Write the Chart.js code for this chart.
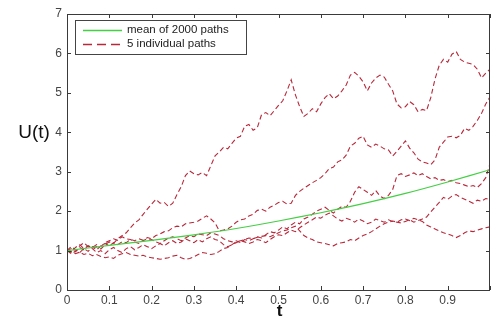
<!DOCTYPE html>
<html>
<head>
<meta charset="utf-8">
<script src="https://cdn.jsdelivr.net/npm/chart.js@4"></script>
<style>
  html, body { margin: 0; padding: 0; background: #fff; }
  #wrap { width: 493px; height: 320px; }
</style>
</head>
<body>
<div id="wrap"><canvas id="chart" width="493" height="320"></canvas></div>
<script>
// time grid of the sample paths
const tValues = [
    0.00, 0.01, 0.02, 0.03, 0.04, 0.05, 0.06, 0.07, 0.08, 0.09,
    0.10, 0.11, 0.12, 0.13, 0.14, 0.15, 0.16, 0.17, 0.18, 0.19,
    0.20, 0.21, 0.22, 0.23, 0.24, 0.25, 0.26, 0.27, 0.28, 0.29,
    0.30, 0.31, 0.32, 0.33, 0.34, 0.35, 0.36, 0.37, 0.38, 0.39,
    0.40, 0.41, 0.42, 0.43, 0.44, 0.45, 0.46, 0.47, 0.48, 0.49,
    0.50, 0.51, 0.52, 0.53, 0.54, 0.55, 0.56, 0.57, 0.58, 0.59,
    0.60, 0.61, 0.62, 0.63, 0.64, 0.65, 0.66, 0.67, 0.68, 0.69,
    0.70, 0.71, 0.72, 0.73, 0.74, 0.75, 0.76, 0.77, 0.78, 0.79,
    0.80, 0.81, 0.82, 0.83, 0.84, 0.85, 0.86, 0.87, 0.88, 0.89,
    0.90, 0.91, 0.92, 0.93, 0.94, 0.95, 0.96, 0.97, 0.98, 0.99,
    1.00
];

// five individual paths
const pathA = [
    1.00, 1.05, 0.97, 1.08, 1.02, 1.12, 1.06, 1.10, 1.04, 1.15,
    1.22, 1.18, 1.30, 1.38, 1.45, 1.58, 1.70, 1.78, 1.92, 2.05,
    2.18, 2.30, 2.20, 2.22, 2.12, 2.20, 2.42, 2.62, 2.90, 3.02,
    2.95, 2.92, 2.98, 2.90, 3.15, 3.40, 3.50, 3.62, 3.58, 3.72,
    3.85, 3.90, 4.15, 4.20, 4.05, 4.12, 4.45, 4.50, 4.42, 4.55,
    4.68, 4.80, 5.05, 5.33, 4.95, 4.65, 4.40, 4.48, 4.60, 4.52,
    4.72, 4.88, 4.98, 4.85, 4.92, 5.05, 5.20, 5.45, 5.52, 5.42,
    5.28, 5.05, 5.25, 5.38, 5.45, 5.40, 5.22, 5.05, 4.72, 4.62,
    4.65, 4.78, 4.70, 4.52, 4.58, 4.55, 4.88, 5.35, 5.70, 5.85,
    5.78, 5.98, 6.05, 5.85, 5.78, 5.75, 5.72, 5.60, 5.38, 5.50,
    5.60
];
const pathB = [
    1.00, 0.95, 1.08, 1.15, 1.05, 0.98, 1.10, 1.02, 1.12, 1.18,
    1.12, 1.20, 1.15, 1.22, 1.20, 1.28, 1.25, 1.30, 1.26, 1.33,
    1.30, 1.38, 1.42, 1.48, 1.50, 1.58, 1.62, 1.60, 1.68, 1.70,
    1.72, 1.75, 1.82, 1.88, 1.80, 1.70, 1.50, 1.52, 1.55, 1.62,
    1.72, 1.78, 1.80, 1.88, 1.92, 2.02, 2.05, 2.00, 2.10, 2.15,
    2.22, 2.25, 2.18, 2.20, 2.40, 2.50, 2.58, 2.65, 2.72, 2.78,
    2.85, 2.95, 3.08, 3.12, 3.25, 3.30, 3.42, 3.65, 3.72, 3.85,
    3.90, 3.68, 3.62, 3.70, 3.65, 3.58, 3.55, 3.40, 3.52, 3.65,
    3.78, 3.60, 3.48, 3.32, 3.25, 3.22, 3.18, 3.30, 3.62, 3.75,
    3.88, 3.90, 3.86, 3.92, 4.10, 4.05, 4.15, 4.30, 4.48, 4.72,
    4.90
];
const pathC = [
    1.00, 1.10, 1.02, 0.95, 1.05, 1.12, 1.08, 1.15, 1.10, 1.20,
    1.25, 1.30, 1.26, 1.35, 1.30, 1.28, 1.22, 1.18, 1.25, 1.30,
    1.28, 1.22, 1.18, 1.25, 1.32, 1.35, 1.30, 1.25, 1.32, 1.38,
    1.35, 1.42, 1.40, 1.38, 1.45, 1.42, 1.38, 1.30, 1.25, 1.22,
    1.25, 1.20, 1.28, 1.25, 1.30, 1.35, 1.32, 1.40, 1.48, 1.45,
    1.52, 1.60, 1.55, 1.65, 1.72, 1.68, 1.80, 1.85, 1.92, 2.00,
    2.05, 2.10, 2.02, 1.95, 2.05, 2.12, 2.10, 2.25, 2.48, 2.62,
    2.55, 2.48, 2.40, 2.52, 2.38, 2.32, 2.40, 2.55, 2.90, 2.95,
    2.88, 2.92, 2.97, 2.90, 2.95, 2.88, 2.82, 2.85, 2.78, 2.80,
    2.75, 2.78, 2.72, 2.70, 2.66, 2.62, 2.65, 2.60, 2.70, 2.85,
    3.20
];
const pathD = [
    1.00, 0.92, 0.98, 1.12, 1.20, 1.10, 1.05, 0.95, 1.00, 0.92,
    1.02, 1.08, 1.00, 0.95, 1.05, 1.10, 1.02, 1.08, 1.15, 1.10,
    1.05, 1.12, 1.18, 1.12, 1.20, 1.25, 1.18, 1.22, 1.30, 1.25,
    1.20, 1.28, 1.22, 1.30, 1.35, 1.28, 1.25, 1.15, 1.10, 1.15,
    1.20, 1.25, 1.22, 1.18, 1.22, 1.28, 1.25, 1.20, 1.28, 1.35,
    1.40, 1.38, 1.45, 1.52, 1.48, 1.58, 1.65, 1.72, 1.78, 1.85,
    1.82, 1.90, 1.95, 1.88, 1.80, 1.75, 1.82, 1.78, 1.72, 1.80,
    1.75, 1.68, 1.72, 1.80, 1.76, 1.72, 1.78, 1.74, 1.72, 1.70,
    1.74, 1.78, 1.72, 1.76, 1.80, 1.85, 1.98, 2.10, 2.22, 2.35,
    2.30, 2.38, 2.42, 2.35, 2.30, 2.25, 2.20, 2.28, 2.25, 2.32,
    2.30
];
const pathE = [
    1.00, 0.98, 0.92, 0.96, 0.90, 0.93, 0.87, 0.90, 0.85, 0.82,
    0.84, 0.80, 0.88, 0.92, 0.95, 0.90, 0.88, 0.86, 0.88, 0.84,
    0.82, 0.80, 0.78, 0.80, 0.82, 0.86, 0.88, 0.82, 0.78, 0.80,
    0.84, 0.90, 0.95, 0.93, 0.90, 0.92, 0.98, 1.05, 1.08, 1.15,
    1.22, 1.25, 1.28, 1.32, 1.30, 1.34, 1.36, 1.38, 1.35, 1.40,
    1.45, 1.50, 1.52, 1.58, 1.62, 1.50, 1.38, 1.32, 1.28, 1.22,
    1.20, 1.18, 1.15, 1.12, 1.18, 1.20, 1.22, 1.28, 1.25, 1.32,
    1.38, 1.42, 1.48, 1.55, 1.62, 1.68, 1.72, 1.75, 1.72, 1.78,
    1.80, 1.76, 1.82, 1.78, 1.74, 1.65, 1.60, 1.55, 1.50, 1.45,
    1.42, 1.38, 1.33, 1.38, 1.45, 1.50, 1.48, 1.52, 1.55, 1.58,
    1.60
];

// mean of 2000 paths
const meanT = [0, 0.1, 0.2, 0.3, 0.4, 0.5, 0.6, 0.7, 0.8, 0.9, 1.0];
const meanU = [1.00, 1.13, 1.26, 1.40, 1.56, 1.75, 1.96, 2.19, 2.45, 2.74, 3.05];

const xTicks = [0, 0.1, 0.2, 0.3, 0.4, 0.5, 0.6, 0.7, 0.8, 0.9, 1];
const yTicks = [0, 1, 2, 3, 4, 5, 6, 7];

const GREEN = '#44cf44';
const RED = '#b8283a';
const AXIS = '#3a3a3a';
const FONT = '"Liberation Sans", Arial, sans-serif';

const toXY = (xs, ys) => xs.map((x, i) => ({ x: x, y: ys[i] }));

const paths = [pathA, pathB, pathC, pathD, pathE];
const pathSets = paths.map((p, i) => ({
    label: i === 0 ? '5 individual paths' : '',
    data: toXY(tValues, p),
    borderColor: RED,
    borderWidth: 1.1,
    borderDash: [5, 3],
    pointRadius: 0,
    tension: 0,
    fill: false
}));

// box, inward ticks, legend and axis titles (matlab look)
const matlabDeco = {
    id: 'matlabDeco',
    afterDraw(chart) {
        const { ctx, chartArea: a, scales } = chart;
        ctx.save();
        ctx.strokeStyle = AXIS;
        ctx.lineWidth = 1;
        ctx.strokeRect(a.left + 0.5, a.top + 0.5, a.right - a.left - 1, a.bottom - a.top);

        const tl = 4;
        ctx.beginPath();
        xTicks.forEach(v => {
            const px = Math.round(scales.x.getPixelForValue(v)) + 0.5;
            ctx.moveTo(px, a.bottom); ctx.lineTo(px, a.bottom - tl);
            ctx.moveTo(px, a.top); ctx.lineTo(px, a.top + tl);
        });
        yTicks.forEach(v => {
            const py = Math.round(scales.y.getPixelForValue(v)) + 0.5;
            ctx.moveTo(a.left, py); ctx.lineTo(a.left + tl, py);
            ctx.moveTo(a.right, py); ctx.lineTo(a.right - tl, py);
        });
        ctx.stroke();

        // legend
        const lx = a.left + 8, ly = a.top + 6, lw = 171, lh = 34;
        ctx.fillStyle = '#fff';
        ctx.fillRect(lx, ly, lw, lh);
        ctx.strokeStyle = '#444';
        ctx.strokeRect(lx + 0.5, ly + 0.5, lw, lh);
        ctx.font = '11.5px ' + FONT;
        ctx.textBaseline = 'middle';
        ctx.fillStyle = '#222';

        const rows = [
            { ds: chart.data.datasets[0], y: ly + 10, dash: [] },
            { ds: chart.data.datasets[1], y: ly + 24, dash: [9, 5] }
        ];
        rows.forEach(r => {
            ctx.strokeStyle = r.ds.borderColor;
            ctx.lineWidth = 1.3;
            ctx.setLineDash(r.dash);
            ctx.beginPath();
            ctx.moveTo(lx + 8, r.y + 0.5);
            ctx.lineTo(lx + 47, r.y + 0.5);
            ctx.stroke();
            ctx.setLineDash([]);
            ctx.fillText(r.ds.label, lx + 52, r.y);
        });

        // axis titles
        ctx.fillStyle = '#111';
        ctx.font = '19px ' + FONT;
        ctx.textAlign = 'center';
        ctx.fillText('U(t)', 34, 133);
        ctx.font = 'bold 17px ' + FONT;
        ctx.fillText('t', (a.left + a.right) / 2 + 1, 311);
        ctx.restore();
    }
};

new Chart(document.getElementById('chart'), {
    type: 'line',
    data: {
        datasets: [
            {
                label: 'mean of 2000 paths',
                data: toXY(meanT, meanU),
                borderColor: GREEN,
                borderWidth: 1.2,
                pointRadius: 0,
                tension: 0.3,
                fill: false
            },
            ...pathSets
        ]
    },
    options: {
        responsive: false,
        animation: false,
        layout: { padding: { top: 14, right: 1, left: 0, bottom: 0 } },
        plugins: { legend: { display: false }, tooltip: { enabled: false } },
        scales: {
            x: {
                type: 'linear',
                min: 0,
                max: 1,
                afterBuildTicks: s => { s.ticks = xTicks.map(v => ({ value: v })); },
                afterFit: s => { s.height = 30; },
                grid: { drawOnChartArea: false, drawTicks: false },
                border: { display: false },
                ticks: {
                    padding: 3,
                    color: '#444',
                    font: { size: 12, family: FONT },
                    maxRotation: 0,
                    autoSkip: false,
                    callback: v => (v === 1 ? '' : String(Number(v.toFixed(1))))
                }
            },
            y: {
                min: 0,
                max: 7,
                afterBuildTicks: s => { s.ticks = yTicks.map(v => ({ value: v })); },
                afterFit: s => { s.width = 67; },
                grid: { drawOnChartArea: false, drawTicks: false },
                border: { display: false },
                ticks: {
                    padding: 5,
                    color: '#444',
                    font: { size: 12, family: FONT }
                }
            }
        }
    },
    plugins: [matlabDeco]
});
</script>
</body>
</html>
